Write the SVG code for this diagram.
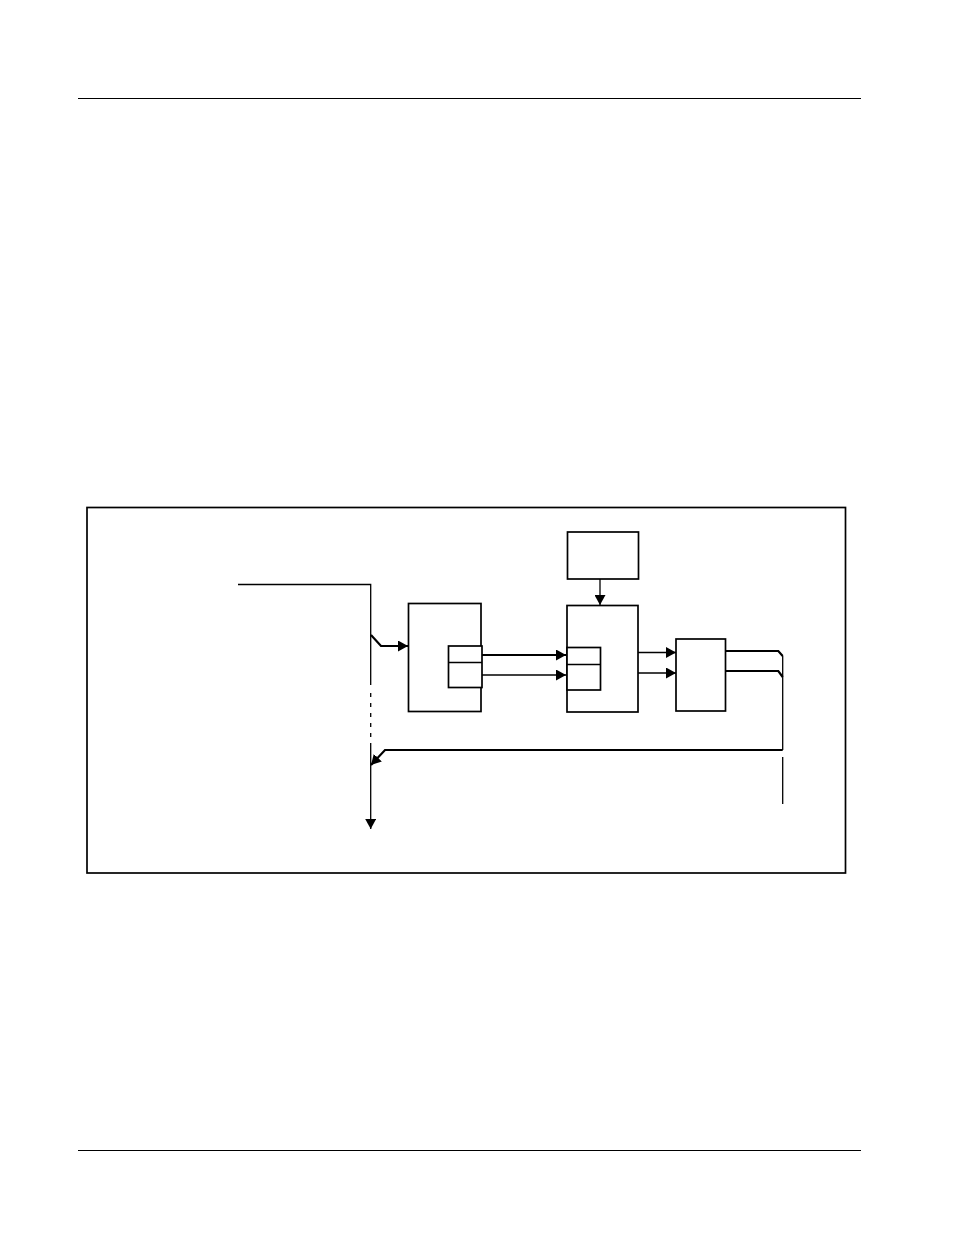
<svg xmlns="http://www.w3.org/2000/svg" width="954" height="1235" viewBox="0 0 954 1235">
<defs>
<style>
.ln{fill:none;stroke:#000;stroke-width:1.3}
.thk{fill:none;stroke:#000;stroke-width:2.2}
.box{fill:#fff;stroke:#000;stroke-width:1.7}
.frame{fill:none;stroke:#000;stroke-width:1.7}
</style>
<marker id="ah" markerWidth="10" markerHeight="11" viewBox="0 0 10 11" refX="10" refY="5.5" orient="auto" markerUnits="userSpaceOnUse">
<path d="M0,0 L10,5.5 L0,11 Z" fill="#000"/>
</marker>
</defs>
<rect width="954" height="1235" fill="#fff"/>
<g id="page-rules">
<line x1="78" y1="98.5" x2="861" y2="98.5" stroke="#000" stroke-width="1.2"/>
<line x1="78" y1="1150.5" x2="861" y2="1150.5" stroke="#000" stroke-width="1.2"/>
</g>
<g id="frame">
<rect class="frame" x="87" y="507.5" width="758.5" height="365.5"/>
</g>
<g id="node-top">
<rect class="box" x="567.5" y="532" width="71" height="47" stroke-width="2"/>
</g>
<g id="node-a">
<rect class="box" x="408.5" y="603.5" width="72.5" height="108"/>
<rect class="box" x="448.5" y="646" width="33.5" height="41.5" stroke-width="1.3"/>
<line class="ln" x1="448.5" y1="662.5" x2="482" y2="662.5"/>
</g>
<g id="node-b">
<rect class="box" x="567" y="605.5" width="71" height="106.5"/>
<rect class="box" x="567" y="647.5" width="33.5" height="42.5" stroke-width="1.3"/>
<line class="ln" x1="567" y1="664.5" x2="600.5" y2="664.5"/>
</g>
<g id="node-c">
<rect class="box" x="676" y="639" width="49.5" height="72"/>
</g>
<g id="connectors">
<polyline class="ln" points="238,584.5 370.7,584.5 370.7,685"/>
<line class="ln" x1="370.7" y1="693" x2="370.7" y2="745" stroke-dasharray="4,6"/>
<line class="ln" x1="370.7" y1="745" x2="370.7" y2="829" marker-end="url(#ah)"/>
<polyline class="thk" points="371,635 381,646 408,646" marker-end="url(#ah)"/>
<line class="thk" x1="482" y1="655" x2="566" y2="655" marker-end="url(#ah)"/>
<line class="ln" x1="482" y1="675" x2="566" y2="675" marker-end="url(#ah)"/>
<line class="ln" x1="600" y1="579" x2="600" y2="605" marker-end="url(#ah)"/>
<line class="ln" x1="638" y1="652.5" x2="676" y2="652.5" marker-end="url(#ah)"/>
<line class="ln" x1="638" y1="673" x2="676" y2="673" marker-end="url(#ah)"/>
<polyline class="thk" points="725.5,651 778.3,651 782.7,656"/>
<polyline class="thk" points="725.5,671 778.3,671 782.7,677"/>
<line class="ln" x1="782.7" y1="656" x2="782.7" y2="750"/>
<polyline class="thk" points="782.7,750 385,750 371,765" marker-end="url(#ah)"/>
<line class="ln" x1="782.7" y1="757" x2="782.7" y2="804"/>
</g>
</svg>
